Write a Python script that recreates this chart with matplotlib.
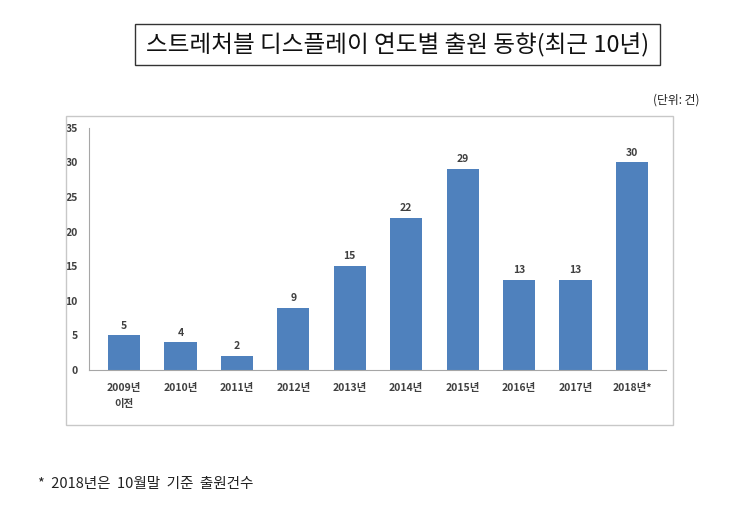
import matplotlib
matplotlib.use("Agg")
import matplotlib.pyplot as plt
from matplotlib.patches import Rectangle

plt.rcParams['font.family'] = ['Noto Sans CJK KR', 'DejaVu Sans']

# 데이터
categories = ["2009년\n이전", "2010년", "2011년", "2012년", "2013년",
              "2014년", "2015년", "2016년", "2017년", "2018년*"]
counts = [5, 4, 2, 9, 15, 22, 29, 13, 13, 30]
y_ticks = [0, 5, 10, 15, 20, 25, 30, 35]

title = "스트레처블 디스플레이 연도별 출원 동향(최근 10년)"
unit_text = "(단위: 건)"
note_text = "*  2018년은  10월말  기준  출원건수"

bar_color = "#4f81bd"
text_color = "#404040"

fig = plt.figure(figsize=(7.3, 5.09), dpi=100)

# 제목 상자
fig.patches.append(Rectangle((0.185, 0.872), 0.719, 0.081, transform=fig.transFigure,
                             fill=False, edgecolor="#333333", linewidth=1.0))
fig.text(0.5445, 0.912, title, ha="center", va="center", fontsize=17, color="#111111")

fig.text(0.958, 0.803, unit_text, ha="right", va="center", fontsize=8.5, color="#222222")

# 차트 테두리
fig.patches.append(Rectangle((0.0904, 0.165), 0.8315, 0.607, transform=fig.transFigure,
                             fill=False, edgecolor="#c8c8c8", linewidth=1.0))

ax = fig.add_axes([0.122, 0.273, 0.79, 0.476])
x = range(len(categories))
bars = ax.bar(x, counts, width=0.57, color=bar_color)

for b, v in zip(bars, counts):
    ax.text(b.get_x() + b.get_width() / 2, v + 0.7, str(v), ha="center", va="bottom",
            fontsize=7.5, color=text_color, fontweight="bold")

ax.set_xlim(-0.62, 9.6)
ax.set_ylim(0, 35)
ax.set_yticks(y_ticks)
ax.set_xticks(list(x))
ax.set_xticklabels(categories, fontsize=7.5, color=text_color, fontweight="bold", linespacing=1.8)
ax.tick_params(axis="y", labelsize=7.5, colors=text_color, length=0, pad=8)
ax.tick_params(axis="x", length=0, pad=9)
for lbl in ax.get_yticklabels():
    lbl.set_fontweight("bold")

for s in ["top", "right"]:
    ax.spines[s].set_visible(False)
ax.spines["left"].set_color("#a6a6a6")
ax.spines["bottom"].set_color("#a6a6a6")

fig.text(0.052, 0.049, note_text, ha="left", va="center", fontsize=10.5, color="#222222")

fig.savefig("out.png", dpi=100)
